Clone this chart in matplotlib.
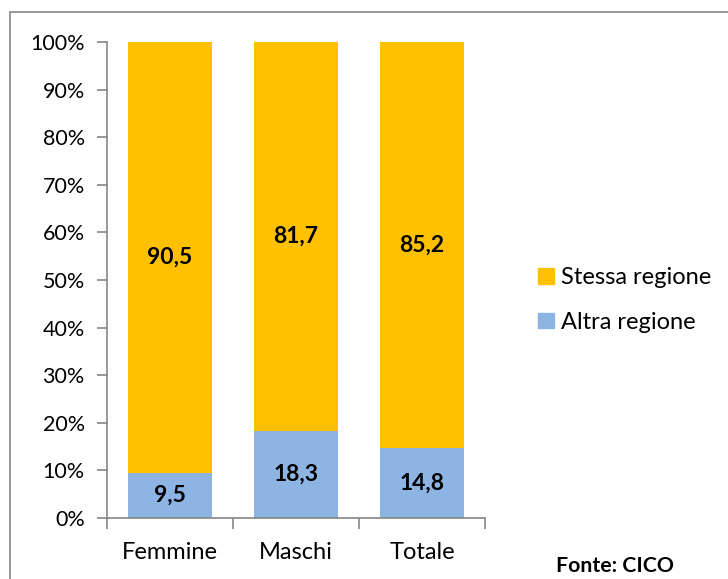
import matplotlib
matplotlib.use("Agg")
import matplotlib.pyplot as plt
from matplotlib.patches import Rectangle, Patch

plt.rcParams['font.family'] = ['Lato', 'DejaVu Sans']

categories = ["Femmine", "Maschi", "Totale"]
altra_regione = [9.5, 18.3, 14.8]
stessa_regione = [90.5, 81.7, 85.2]
series_names = ["Stessa regione", "Altra regione"]
y_ticks = [0, 10, 20, 30, 40, 50, 60, 70, 80, 90, 100]

ORANGE = "#FFC000"
BLUE = "#8EB4E3"
AXIS = "#868686"

W, H = 728, 579
fig = plt.figure(figsize=(W / 100, H / 100), dpi=100)

# outer frame
fig.patches.append(Rectangle((10 / W, -0.05), 1.2, 1 - 12 / H + 0.05,
                             transform=fig.transFigure, fill=False,
                             edgecolor=AXIS, linewidth=1.2))

ax = fig.add_axes([107 / W, (H - 518) / H, (485 - 107) / W, 476 / H])
x = list(range(len(categories)))
width = 0.667
ax.bar(x, altra_regione, width, color=BLUE, label=series_names[1])
ax.bar(x, stessa_regione, width, bottom=altra_regione, color=ORANGE,
       label=series_names[0])

for i in x:
    ax.text(i, altra_regione[i] / 2, f"{altra_regione[i]:.1f}".replace(".", ","),
            ha="center", va="center", fontsize=16.5, fontweight="bold")
    ax.text(i, altra_regione[i] + stessa_regione[i] / 2,
            f"{stessa_regione[i]:.1f}".replace(".", ","),
            ha="center", va="center", fontsize=16.5, fontweight="bold")

ax.set_xlim(-0.5, len(categories) - 0.5)
ax.set_ylim(0, 100)
ax.set_yticks(y_ticks)
ax.set_yticklabels([f"{v}%" for v in y_ticks], fontsize=15.5)
ax.tick_params(axis="y", direction="out", length=7, color=AXIS, width=1.2, pad=9)

ax.set_xticks([i - 0.5 for i in range(len(categories) + 1)])
ax.set_xticklabels([])
ax.tick_params(axis="x", which="major", direction="out", length=8, color=AXIS, width=1.2)
ax.set_xticks(x, minor=True)
ax.set_xticklabels(categories, minor=True, fontsize=17)
ax.tick_params(axis="x", which="minor", length=0, pad=17)

for s in ["top", "right"]:
    ax.spines[s].set_visible(False)
for s in ["left", "bottom"]:
    ax.spines[s].set_color(AXIS)
    ax.spines[s].set_linewidth(1.2)

handles = [Patch(color=ORANGE, label=series_names[0]),
           Patch(color=BLUE, label=series_names[1])]
fig.legend(handles=handles, loc="center left", bbox_to_anchor=(517 / W, 1 - 300 / H),
           frameon=False, fontsize=17, handlelength=0.66, handleheight=0.66,
           handletextpad=0.3, labelspacing=1.0)

fig.text(556 / W, 1 - 566 / H, "Fonte: CICO", fontsize=15.3, fontweight="bold",
         ha="left", va="center")

fig.savefig("out.png", dpi=100)
